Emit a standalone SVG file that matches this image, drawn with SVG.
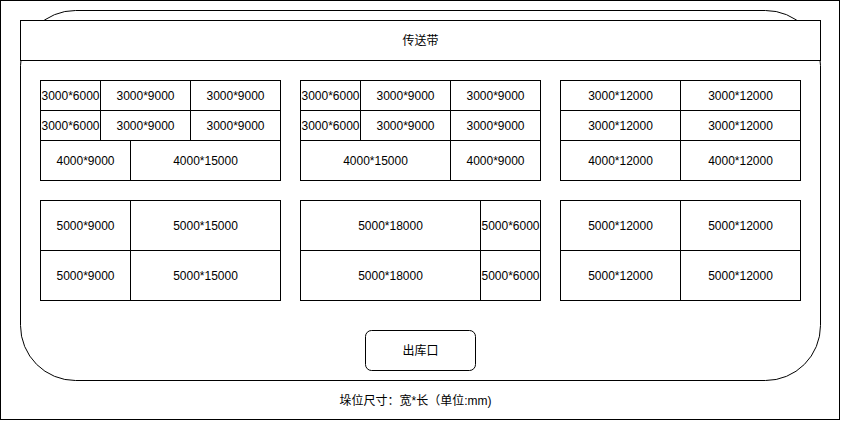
<svg xmlns="http://www.w3.org/2000/svg" width="841" height="421" viewBox="0 0 841 421">
  <style>
    rect { fill: #ffffff; stroke: #000000; stroke-width: 1; }
    line { stroke: #000000; stroke-width: 1; }
    text { font-family: "Liberation Sans", Arial, "Noto Sans CJK SC", sans-serif; font-size: 12px; fill: #000000; text-anchor: middle; }
  </style>

  <!-- page frame -->
  <rect id="frame" x="0.5" y="0.5" width="839" height="419"/>

  <!-- warehouse floor -->
  <g id="warehouse">
    <rect x="20.5" y="10.5" width="800" height="370" rx="55" ry="55"/>
  </g>

  <!-- conveyor belt -->
  <g id="conveyor">
    <rect x="20.5" y="20.5" width="800" height="40"/>
    <text x="420.5" y="44.5">传送带</text>
  </g>

  <!-- block A: 3000/4000 wide slots -->
  <g id="block-a">
    <rect x="40.5" y="80.5" width="240" height="100"/>
    <line x1="40.5" y1="110.5" x2="280.5" y2="110.5"/>
    <line x1="40.5" y1="140.5" x2="280.5" y2="140.5"/>
    <line x1="100.5" y1="80.5" x2="100.5" y2="140.5"/>
    <line x1="190.5" y1="80.5" x2="190.5" y2="140.5"/>
    <line x1="130.5" y1="140.5" x2="130.5" y2="180.5"/>
    <text x="70.5" y="99.5">3000*6000</text>
    <text x="145.5" y="99.5">3000*9000</text>
    <text x="235.5" y="99.5">3000*9000</text>
    <text x="70.5" y="129.5">3000*6000</text>
    <text x="145.5" y="129.5">3000*9000</text>
    <text x="235.5" y="129.5">3000*9000</text>
    <text x="85.5" y="164.5">4000*9000</text>
    <text x="205.5" y="164.5">4000*15000</text>
  </g>

  <!-- block B -->
  <g id="block-b">
    <rect x="300.5" y="80.5" width="240" height="100"/>
    <line x1="300.5" y1="110.5" x2="540.5" y2="110.5"/>
    <line x1="300.5" y1="140.5" x2="540.5" y2="140.5"/>
    <line x1="360.5" y1="80.5" x2="360.5" y2="140.5"/>
    <line x1="450.5" y1="80.5" x2="450.5" y2="180.5"/>
    <text x="330.5" y="99.5">3000*6000</text>
    <text x="405.5" y="99.5">3000*9000</text>
    <text x="495.5" y="99.5">3000*9000</text>
    <text x="330.5" y="129.5">3000*6000</text>
    <text x="405.5" y="129.5">3000*9000</text>
    <text x="495.5" y="129.5">3000*9000</text>
    <text x="375.5" y="164.5">4000*15000</text>
    <text x="495.5" y="164.5">4000*9000</text>
  </g>

  <!-- block C -->
  <g id="block-c">
    <rect x="560.5" y="80.5" width="240" height="100"/>
    <line x1="560.5" y1="110.5" x2="800.5" y2="110.5"/>
    <line x1="560.5" y1="140.5" x2="800.5" y2="140.5"/>
    <line x1="680.5" y1="80.5" x2="680.5" y2="180.5"/>
    <text x="620.5" y="99.5">3000*12000</text>
    <text x="740.5" y="99.5">3000*12000</text>
    <text x="620.5" y="129.5">3000*12000</text>
    <text x="740.5" y="129.5">3000*12000</text>
    <text x="620.5" y="164.5">4000*12000</text>
    <text x="740.5" y="164.5">4000*12000</text>
  </g>

  <!-- block D: 5000 wide slots -->
  <g id="block-d">
    <rect x="40.5" y="200.5" width="240" height="100"/>
    <line x1="40.5" y1="250.5" x2="280.5" y2="250.5"/>
    <line x1="130.5" y1="200.5" x2="130.5" y2="300.5"/>
    <text x="85.5" y="229.5">5000*9000</text>
    <text x="205.5" y="229.5">5000*15000</text>
    <text x="85.5" y="279.5">5000*9000</text>
    <text x="205.5" y="279.5">5000*15000</text>
  </g>

  <!-- block E -->
  <g id="block-e">
    <rect x="300.5" y="200.5" width="240" height="100"/>
    <line x1="300.5" y1="250.5" x2="540.5" y2="250.5"/>
    <line x1="480.5" y1="200.5" x2="480.5" y2="300.5"/>
    <text x="390.5" y="229.5">5000*18000</text>
    <text x="510.5" y="229.5">5000*6000</text>
    <text x="390.5" y="279.5">5000*18000</text>
    <text x="510.5" y="279.5">5000*6000</text>
  </g>

  <!-- block F -->
  <g id="block-f">
    <rect x="560.5" y="200.5" width="240" height="100"/>
    <line x1="560.5" y1="250.5" x2="800.5" y2="250.5"/>
    <line x1="680.5" y1="200.5" x2="680.5" y2="300.5"/>
    <text x="620.5" y="229.5">5000*12000</text>
    <text x="740.5" y="229.5">5000*12000</text>
    <text x="620.5" y="279.5">5000*12000</text>
    <text x="740.5" y="279.5">5000*12000</text>
  </g>

  <!-- exit door -->
  <g id="exit">
    <rect x="365.5" y="330.5" width="110" height="40" rx="6" ry="6"/>
    <text x="420.5" y="354.5">出库口</text>
  </g>

  <!-- legend -->
  <g id="legend">
    <text x="415.5" y="404.5">垛位尺寸：宽*长（单位:mm)</text>
  </g>
</svg>
